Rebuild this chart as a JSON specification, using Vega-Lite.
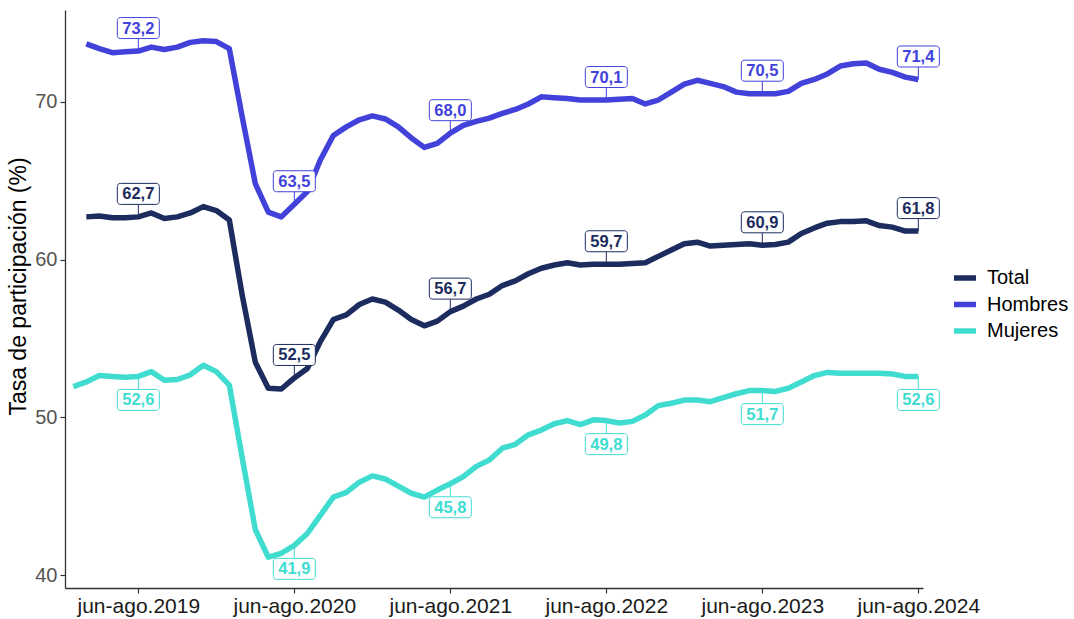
{
  "$schema": "https://vega.github.io/schema/vega-lite/v6.json",
  "width": 858,
  "height": 578,
  "autosize": {"type": "none"},
  "padding": {"left": 65, "top": 10, "right": 151, "bottom": 31},
  "background": "white",
  "config": {
    "view": {"stroke": null},
    "font": "Liberation Sans",
    "locale": {"number": {"decimal": ",", "thousands": ".", "grouping": [3], "currency": ["", " €"]}}
  },
  "data": {"values": [
    {"s":"Total","k":-4,"v":62.7},{"s":"Total","k":-3,"v":62.75},{"s":"Total","k":-2,"v":62.65},{"s":"Total","k":-1,"v":62.65},
    {"s":"Total","k":0,"v":62.7},{"s":"Total","k":1,"v":62.95},{"s":"Total","k":2,"v":62.6},{"s":"Total","k":3,"v":62.7},
    {"s":"Total","k":4,"v":62.95},{"s":"Total","k":5,"v":63.35},{"s":"Total","k":6,"v":63.1},{"s":"Total","k":7,"v":62.5},
    {"s":"Total","k":8,"v":57.7},{"s":"Total","k":9,"v":53.5},{"s":"Total","k":10,"v":51.85},{"s":"Total","k":11,"v":51.8},
    {"s":"Total","k":12,"v":52.5},{"s":"Total","k":13,"v":53.1},{"s":"Total","k":14,"v":54.8},{"s":"Total","k":15,"v":56.2},
    {"s":"Total","k":16,"v":56.5},{"s":"Total","k":17,"v":57.15},{"s":"Total","k":18,"v":57.5},{"s":"Total","k":19,"v":57.3},
    {"s":"Total","k":20,"v":56.8},{"s":"Total","k":21,"v":56.2},{"s":"Total","k":22,"v":55.8},{"s":"Total","k":23,"v":56.1},
    {"s":"Total","k":24,"v":56.7},{"s":"Total","k":25,"v":57.05},{"s":"Total","k":26,"v":57.5},{"s":"Total","k":27,"v":57.8},
    {"s":"Total","k":28,"v":58.35},{"s":"Total","k":29,"v":58.65},{"s":"Total","k":30,"v":59.1},{"s":"Total","k":31,"v":59.45},
    {"s":"Total","k":32,"v":59.65},{"s":"Total","k":33,"v":59.8},{"s":"Total","k":34,"v":59.65},{"s":"Total","k":35,"v":59.7},
    {"s":"Total","k":36,"v":59.7},{"s":"Total","k":37,"v":59.7},{"s":"Total","k":38,"v":59.75},{"s":"Total","k":39,"v":59.8},
    {"s":"Total","k":40,"v":60.2},{"s":"Total","k":41,"v":60.6},{"s":"Total","k":42,"v":61.0},{"s":"Total","k":43,"v":61.1},
    {"s":"Total","k":44,"v":60.85},{"s":"Total","k":45,"v":60.9},{"s":"Total","k":46,"v":60.95},{"s":"Total","k":47,"v":61.0},
    {"s":"Total","k":48,"v":60.9},{"s":"Total","k":49,"v":60.95},{"s":"Total","k":50,"v":61.1},{"s":"Total","k":51,"v":61.65},
    {"s":"Total","k":52,"v":62.0},{"s":"Total","k":53,"v":62.3},{"s":"Total","k":54,"v":62.4},{"s":"Total","k":55,"v":62.4},
    {"s":"Total","k":56,"v":62.45},{"s":"Total","k":57,"v":62.15},{"s":"Total","k":58,"v":62.05},{"s":"Total","k":59,"v":61.8},
    {"s":"Total","k":60,"v":61.8},
    {"s":"Hombres","k":-4,"v":73.65},{"s":"Hombres","k":-3,"v":73.35},{"s":"Hombres","k":-2,"v":73.1},{"s":"Hombres","k":-1,"v":73.15},
    {"s":"Hombres","k":0,"v":73.2},{"s":"Hombres","k":1,"v":73.45},{"s":"Hombres","k":2,"v":73.3},{"s":"Hombres","k":3,"v":73.45},
    {"s":"Hombres","k":4,"v":73.75},{"s":"Hombres","k":5,"v":73.85},{"s":"Hombres","k":6,"v":73.8},{"s":"Hombres","k":7,"v":73.35},
    {"s":"Hombres","k":8,"v":69.0},{"s":"Hombres","k":9,"v":64.8},{"s":"Hombres","k":10,"v":63.0},{"s":"Hombres","k":11,"v":62.7},
    {"s":"Hombres","k":12,"v":63.5},{"s":"Hombres","k":13,"v":64.3},{"s":"Hombres","k":14,"v":66.3},{"s":"Hombres","k":15,"v":67.85},
    {"s":"Hombres","k":16,"v":68.4},{"s":"Hombres","k":17,"v":68.85},{"s":"Hombres","k":18,"v":69.1},{"s":"Hombres","k":19,"v":68.9},
    {"s":"Hombres","k":20,"v":68.4},{"s":"Hombres","k":21,"v":67.7},{"s":"Hombres","k":22,"v":67.1},{"s":"Hombres","k":23,"v":67.35},
    {"s":"Hombres","k":24,"v":68.0},{"s":"Hombres","k":25,"v":68.5},{"s":"Hombres","k":26,"v":68.75},{"s":"Hombres","k":27,"v":68.95},
    {"s":"Hombres","k":28,"v":69.25},{"s":"Hombres","k":29,"v":69.5},{"s":"Hombres","k":30,"v":69.85},{"s":"Hombres","k":31,"v":70.3},
    {"s":"Hombres","k":32,"v":70.25},{"s":"Hombres","k":33,"v":70.2},{"s":"Hombres","k":34,"v":70.1},{"s":"Hombres","k":35,"v":70.1},
    {"s":"Hombres","k":36,"v":70.1},{"s":"Hombres","k":37,"v":70.15},{"s":"Hombres","k":38,"v":70.2},{"s":"Hombres","k":39,"v":69.85},
    {"s":"Hombres","k":40,"v":70.1},{"s":"Hombres","k":41,"v":70.6},{"s":"Hombres","k":42,"v":71.1},{"s":"Hombres","k":43,"v":71.35},
    {"s":"Hombres","k":44,"v":71.15},{"s":"Hombres","k":45,"v":70.95},{"s":"Hombres","k":46,"v":70.6},{"s":"Hombres","k":47,"v":70.5},
    {"s":"Hombres","k":48,"v":70.5},{"s":"Hombres","k":49,"v":70.5},{"s":"Hombres","k":50,"v":70.65},{"s":"Hombres","k":51,"v":71.15},
    {"s":"Hombres","k":52,"v":71.4},{"s":"Hombres","k":53,"v":71.75},{"s":"Hombres","k":54,"v":72.25},{"s":"Hombres","k":55,"v":72.4},
    {"s":"Hombres","k":56,"v":72.45},{"s":"Hombres","k":57,"v":72.05},{"s":"Hombres","k":58,"v":71.85},{"s":"Hombres","k":59,"v":71.55},
    {"s":"Hombres","k":60,"v":71.4},
    {"s":"Mujeres","k":-5,"v":51.95},
    {"s":"Mujeres","k":-4,"v":52.25},{"s":"Mujeres","k":-3,"v":52.65},{"s":"Mujeres","k":-2,"v":52.6},{"s":"Mujeres","k":-1,"v":52.55},
    {"s":"Mujeres","k":0,"v":52.6},{"s":"Mujeres","k":1,"v":52.9},{"s":"Mujeres","k":2,"v":52.35},{"s":"Mujeres","k":3,"v":52.4},
    {"s":"Mujeres","k":4,"v":52.7},{"s":"Mujeres","k":5,"v":53.3},{"s":"Mujeres","k":6,"v":52.9},{"s":"Mujeres","k":7,"v":52.05},
    {"s":"Mujeres","k":8,"v":47.4},{"s":"Mujeres","k":9,"v":42.9},{"s":"Mujeres","k":10,"v":41.15},{"s":"Mujeres","k":11,"v":41.4},
    {"s":"Mujeres","k":12,"v":41.9},{"s":"Mujeres","k":13,"v":42.65},{"s":"Mujeres","k":14,"v":43.8},{"s":"Mujeres","k":15,"v":44.95},
    {"s":"Mujeres","k":16,"v":45.25},{"s":"Mujeres","k":17,"v":45.9},{"s":"Mujeres","k":18,"v":46.3},{"s":"Mujeres","k":19,"v":46.1},
    {"s":"Mujeres","k":20,"v":45.65},{"s":"Mujeres","k":21,"v":45.2},{"s":"Mujeres","k":22,"v":44.95},{"s":"Mujeres","k":23,"v":45.4},
    {"s":"Mujeres","k":24,"v":45.8},{"s":"Mujeres","k":25,"v":46.25},{"s":"Mujeres","k":26,"v":46.9},{"s":"Mujeres","k":27,"v":47.3},
    {"s":"Mujeres","k":28,"v":48.05},{"s":"Mujeres","k":29,"v":48.3},{"s":"Mujeres","k":30,"v":48.9},{"s":"Mujeres","k":31,"v":49.2},
    {"s":"Mujeres","k":32,"v":49.6},{"s":"Mujeres","k":33,"v":49.8},{"s":"Mujeres","k":34,"v":49.55},{"s":"Mujeres","k":35,"v":49.85},
    {"s":"Mujeres","k":36,"v":49.8},{"s":"Mujeres","k":37,"v":49.65},{"s":"Mujeres","k":38,"v":49.75},{"s":"Mujeres","k":39,"v":50.15},
    {"s":"Mujeres","k":40,"v":50.75},{"s":"Mujeres","k":41,"v":50.9},{"s":"Mujeres","k":42,"v":51.1},{"s":"Mujeres","k":43,"v":51.1},
    {"s":"Mujeres","k":44,"v":51.0},{"s":"Mujeres","k":45,"v":51.25},{"s":"Mujeres","k":46,"v":51.5},{"s":"Mujeres","k":47,"v":51.7},
    {"s":"Mujeres","k":48,"v":51.7},{"s":"Mujeres","k":49,"v":51.65},{"s":"Mujeres","k":50,"v":51.85},{"s":"Mujeres","k":51,"v":52.25},
    {"s":"Mujeres","k":52,"v":52.65},{"s":"Mujeres","k":53,"v":52.85},{"s":"Mujeres","k":54,"v":52.8},{"s":"Mujeres","k":55,"v":52.8},
    {"s":"Mujeres","k":56,"v":52.8},{"s":"Mujeres","k":57,"v":52.8},{"s":"Mujeres","k":58,"v":52.75},{"s":"Mujeres","k":59,"v":52.6},
    {"s":"Mujeres","k":60,"v":52.6}
  ]},
  "encoding": {
    "x": {
      "field": "k", "type": "quantitative",
      "scale": {"domain": [-5.64, 60.36], "nice": false, "zero": false},
      "axis": {
        "title": null, "values": [0, 12, 24, 36, 48, 60],
        "labelExpr": "'jun-ago.' + (2019 + datum.value / 12)",
        "grid": false, "domainColor": "#333333", "domainWidth": 1.3,
        "tickColor": "#333333", "tickWidth": 1.2, "tickSize": 5,
        "labelFontSize": 21, "labelColor": "#1a1a1a", "labelPadding": 2,
        "labelFont": "Liberation Sans"
      }
    },
    "y": {
      "field": "v", "type": "quantitative",
      "scale": {"domain": [39.2, 75.8], "nice": false, "zero": false},
      "axis": {
        "title": "Tasa de participación (%)", "values": [40, 50, 60, 70],
        "grid": false, "domainColor": "#333333", "domainWidth": 1.3,
        "tickColor": "#333333", "tickWidth": 1.2, "tickSize": 5,
        "labelFontSize": 20, "labelColor": "#555555", "labelPadding": 3,
        "labelFont": "Liberation Sans",
        "titleFont": "Liberation Sans", "titleFontSize": 23, "titleFontWeight": "normal",
        "titleColor": "#000000", "titleX": -46.5, "titleY": 276, "titleAngle": 270,
        "titleBaseline": "middle", "titleAlign": "center"
      }
    },
    "color": {
      "field": "s", "type": "nominal",
      "scale": {"domain": ["Total", "Hombres", "Mujeres"], "range": ["#1d2c5e", "#4242db", "#40dcd0"]},
      "legend": {
        "title": null, "orient": "none", "legendX": 886, "legendY": 254,
        "symbolType": "stroke", "symbolStrokeWidth": 5.5, "symbolSize": 484,
        "labelFontSize": 20, "labelFont": "Liberation Sans", "labelColor": "#000000",
        "labelOffset": 8, "rowPadding": 1.5, "padding": 0
      }
    }
  },
  "layer": [
    {"mark": {"type": "line", "strokeWidth": 5.5, "strokeJoin": "round"}},
    {
      "transform": [{"filter": "datum.k % 12 == 0 && datum.s != 'Mujeres'"}],
      "mark": {"type": "point", "shape": "M0,-1V1", "size": 156, "filled": false, "strokeWidth": 1, "yOffset": -6.25, "opacity": 1}
    },
    {
      "transform": [{"filter": "datum.k % 12 == 0 && datum.s == 'Mujeres'"}],
      "mark": {"type": "point", "shape": "M0,-1V1", "size": 156, "filled": false, "strokeWidth": 1, "yOffset": 6.25, "opacity": 1}
    },
    {
      "transform": [{"filter": "datum.k % 12 == 0 && datum.s != 'Mujeres'"}],
      "mark": {"type": "point", "shape": "M-0.857,-0.5H0.857A0.143,0.143,0,0,1,1,-0.357V0.357A0.143,0.143,0,0,1,0.857,0.5H-0.857A0.143,0.143,0,0,1,-1,0.357V-0.357A0.143,0.143,0,0,1,-0.857,-0.5Z", "size": 1764, "fill": "white", "fillOpacity": 1, "strokeWidth": 1, "yOffset": -23, "opacity": 1},
      "encoding": {
        "stroke": {"field": "s", "type": "nominal", "scale": {"domain": ["Total", "Hombres", "Mujeres"], "range": ["#1d2c5e", "#4242db", "#40dcd0"]}, "legend": null},
        "color": {"value": null}
      }
    },
    {
      "transform": [{"filter": "datum.k % 12 == 0 && datum.s == 'Mujeres'"}],
      "mark": {"type": "point", "shape": "M-0.857,-0.5H0.857A0.143,0.143,0,0,1,1,-0.357V0.357A0.143,0.143,0,0,1,0.857,0.5H-0.857A0.143,0.143,0,0,1,-1,0.357V-0.357A0.143,0.143,0,0,1,-0.857,-0.5Z", "size": 1764, "fill": "white", "fillOpacity": 1, "strokeWidth": 1, "yOffset": 23.5, "opacity": 1},
      "encoding": {
        "stroke": {"field": "s", "type": "nominal", "scale": {"domain": ["Total", "Hombres", "Mujeres"], "range": ["#1d2c5e", "#4242db", "#40dcd0"]}, "legend": null},
        "color": {"value": null}
      }
    },
    {
      "transform": [{"filter": "datum.k % 12 == 0 && datum.s != 'Mujeres'"}],
      "mark": {"type": "text", "fontWeight": "bold", "fontSize": 16.5, "font": "Liberation Sans", "baseline": "middle", "yOffset": -22.5},
      "encoding": {"text": {"field": "v", "type": "quantitative", "format": ".1f"}}
    },
    {
      "transform": [{"filter": "datum.k % 12 == 0 && datum.s == 'Mujeres'"}],
      "mark": {"type": "text", "fontWeight": "bold", "fontSize": 16.5, "font": "Liberation Sans", "baseline": "middle", "yOffset": 24},
      "encoding": {"text": {"field": "v", "type": "quantitative", "format": ".1f"}}
    }
  ]
}
